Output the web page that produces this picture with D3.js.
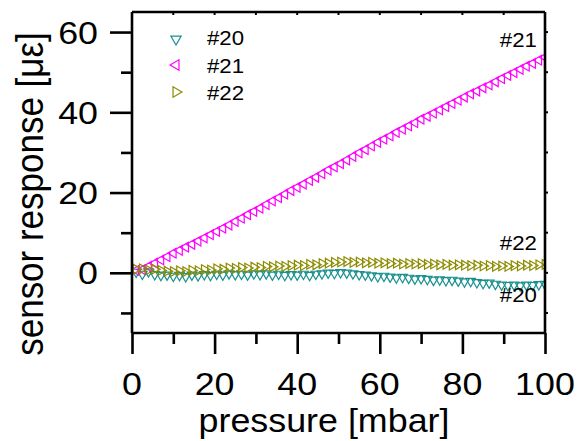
<!DOCTYPE html>
<html><head><meta charset="utf-8">
<script src="https://cdn.jsdelivr.net/npm/d3@7"></script>
<style>body{margin:0;background:#fff}svg{display:block}</style>
</head><body>
<svg id="c" width="580" height="441"></svg>
<script>
const pressure=[1,2.5,4,5.5,7,8.5,10,11.5,13,14.5,16,17.5,19,20.5,22,23.5,25,26.5,28,29.5,31,32.5,34,35.5,37,38.5,40,41.5,43,44.5,46,47.5,49,50.5,52,53.5,55,56.5,58,59.5,61,62.5,64,65.5,67,68.5,70,71.5,73,74.5,76,77.5,79,80.5,82,83.5,85,86.5,88,89.5,91,92.5,94,95.5,97,98.5,100];
const s20=[0.2,-0.3,0.3,-0.4,-0.6,-0.5,-0.8,-0.6,-0.9,-0.5,-0.7,-0.4,-0.6,-0.3,-0.5,-0.2,-0.4,-0.3,-0.5,-0.2,-0.4,-0.2,-0.5,-0.3,-0.6,-0.4,-0.5,-0.3,-0.6,-0.3,-0.2,0.0,-0.1,0.1,0.0,-0.2,-0.4,-0.5,-0.7,-0.9,-0.8,-1.0,-1.2,-1.1,-1.3,-1.5,-1.4,-1.6,-1.8,-1.7,-1.9,-1.8,-2.0,-2.2,-2.1,-2.4,-2.6,-2.5,-2.8,-3.0,-3.1,-3.0,-3.2,-3.0,-3.1,-2.9,-2.8];
const s21=[0.6,0.8,1.6,2.4,3.2,4.0,4.9,5.6,6.4,7.1,7.9,8.7,9.5,10.3,11.1,11.9,12.8,13.6,14.5,15.3,16.1,17.0,17.9,18.7,19.6,20.5,21.3,22.1,23.0,23.8,24.7,25.6,26.4,27.2,28.1,29.0,29.9,30.7,31.6,32.5,33.3,34.1,35.0,35.8,36.6,37.4,38.3,39.0,39.8,40.6,41.4,42.2,43.0,43.8,44.6,45.3,46.1,46.8,47.6,48.4,49.2,49.9,50.7,51.5,52.2,53.0,53.7];
const s22=[0.9,1.0,0.7,0.9,0.6,0.4,0.3,0.5,0.3,0.6,0.5,0.8,0.7,1.0,0.9,1.2,1.1,1.3,1.2,1.4,1.3,1.6,1.5,1.7,1.6,1.8,1.9,1.8,2.1,2.0,2.3,2.4,2.6,2.7,2.8,2.6,2.7,2.5,2.6,2.4,2.5,2.3,2.4,2.2,2.3,2.2,2.3,2.1,2.2,2.0,2.1,1.9,2.0,1.9,1.8,1.9,1.7,1.8,1.6,1.7,1.6,1.8,1.7,1.9,1.8,2.0,2.1];
const seriesNames=["#20","#21","#22"];
const xTicks=[0,20,40,60,80,100], xMinor=[10,30,50,70,90];
const yTicks=[0,20,40,60], yMinor=[-10,10,30,50];

const colors=["#199090","#ff00ff","#8c8c00"];
const rot=[180,-90,90];
const FONT='"Liberation Sans", Arial, Helvetica, sans-serif';
const SX=1.12;

const svg=d3.select("#c");
const L=132,R=545,T=12,B=333;
const x=d3.scaleLinear().domain([0,100]).range([L,R]);
const y=d3.scaleLinear().domain([-15,65]).range([B,T]);

svg.append("defs").append("clipPath").attr("id","clip").append("rect")
  .attr("x",L).attr("y",T).attr("width",R-L).attr("height",B-T);

const sym=d3.symbol().type(d3.symbolTriangle).size(40);
const data=[s20,s21,s22];
const plot=svg.append("g").attr("clip-path","url(#clip)");
data.forEach((s,i)=>{
  plot.append("g").selectAll("path").data(pressure.map((p,j)=>[p,s[j]]))
    .join("path").attr("d",sym)
    .attr("transform",d=>`translate(${x(d[0])},${y(d[1])}) rotate(${rot[i]})`)
    .attr("fill","none").attr("stroke",colors[i]).attr("stroke-width",1.2);
});

// frame
const fr=svg.append("g").attr("stroke","#000").attr("stroke-width",2.6).attr("fill","none");
fr.append("line").attr("x1",L).attr("x2",R).attr("y1",T).attr("y2",T);
fr.append("line").attr("x1",L).attr("x2",R).attr("y1",B).attr("y2",B);
fr.append("line").attr("x1",R).attr("x2",R).attr("y1",T).attr("y2",B);

// axes
function styleAxis(g){g.select(".domain").remove();g.selectAll("line").attr("stroke","#000").attr("stroke-width",2.6);g.selectAll("text").remove();}
svg.append("g").attr("transform",`translate(0,${B})`)
  .call(d3.axisBottom(x).tickValues(xTicks).tickSize(21).tickSizeOuter(0)).call(styleAxis);
svg.append("g").attr("transform",`translate(0,${B})`)
  .call(d3.axisBottom(x).tickValues(xMinor).tickSize(11).tickSizeOuter(0)).call(styleAxis);
svg.append("g").attr("transform",`translate(${L},0)`)
  .call(d3.axisLeft(y).tickValues(yTicks).tickSize(22).tickSizeOuter(0)).call(styleAxis);
svg.append("g").attr("transform",`translate(${L},0)`)
  .call(d3.axisLeft(y).tickValues(yMinor).tickSize(11).tickSizeOuter(0)).call(styleAxis);
svg.append("line").attr("x1",L).attr("x2",L).attr("y1",T).attr("y2",B).attr("stroke","#000").attr("stroke-width",2.6);
svg.append("g").selectAll("line").data(xTicks.concat(xMinor)).join("line")
  .attr("x1",d=>x(d)).attr("x2",d=>x(d)).attr("y1",T).attr("y2",T+3).attr("stroke","#000").attr("stroke-width",2);
svg.append("g").selectAll("line").data(yTicks.concat(yMinor)).join("line")
  .attr("x1",R).attr("x2",R+3).attr("y1",d=>y(d)).attr("y2",d=>y(d)).attr("stroke","#000").attr("stroke-width",2);

// tick labels
svg.append("g").selectAll("text").data(xTicks).join("text")
  .attr("transform",d=>`translate(${x(d)},395) scale(${SX},1)`)
  .attr("text-anchor","middle").attr("font-family",FONT).attr("font-size",32).text(d=>d);
svg.append("g").selectAll("text").data(yTicks).join("text")
  .attr("transform",d=>`translate(98,${y(d)+11.5}) scale(${SX},1)`)
  .attr("text-anchor","end").attr("font-family",FONT).attr("font-size",32).text(d=>d);

// titles
svg.append("text").attr("transform",`translate(324,432) scale(${SX*0.97},1)`)
  .attr("text-anchor","middle").attr("font-family",FONT).attr("font-size",33).text("pressure [mbar]");
svg.append("text").attr("transform",`translate(43,194) rotate(-90) scale(1,${SX})`)
  .attr("text-anchor","middle").attr("font-family",FONT).attr("font-size",35).text("sensor response [με]");

// legend
const legY=[39,65,92], legB=[45,73,100];
seriesNames.forEach((n,i)=>{
  svg.append("path").attr("d",d3.symbol().type(d3.symbolTriangle).size(46))
    .attr("transform",`translate(176,${legY[i]}) rotate(${rot[i]})`)
    .attr("fill","none").attr("stroke",colors[i]).attr("stroke-width",1.2);
  svg.append("text").attr("transform",`translate(207,${legB[i]}) scale(1.06,1)`).attr("font-family",FONT).attr("font-size",21).text(n);
});
// curve labels
const lab=[["#21",47],["#22",250],["#20",302]];
lab.forEach(l=>svg.append("text").attr("transform",`translate(537,${l[1]}) scale(1.06,1)`).attr("text-anchor","end")
  .attr("font-family",FONT).attr("font-size",21).text(l[0]));
</script>
</body></html>
